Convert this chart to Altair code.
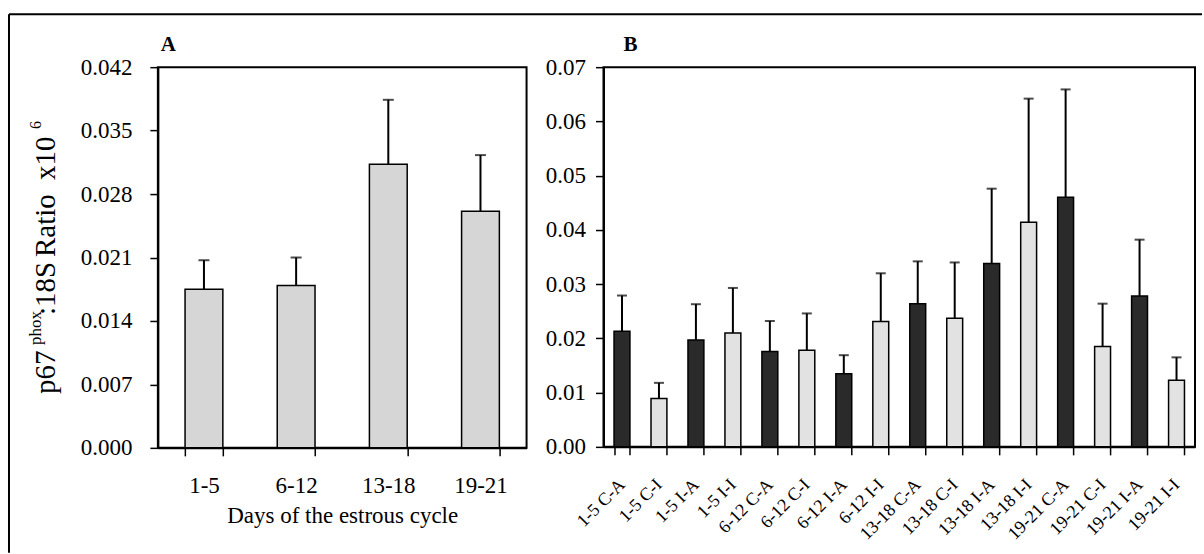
import altair as alt
import pandas as pd

# ---------------- data ----------------
days_A = ["1-5", "6-12", "13-18", "19-21"]
mean_A = [0.0175, 0.0179, 0.0313, 0.0261]
err_A = [0.0032, 0.0031, 0.0071, 0.0062]

groups_B = ["1-5 C-A", "1-5 C-I", "1-5 I-A", "1-5 I-I",
            "6-12 C-A", "6-12 C-I", "6-12 I-A", "6-12 I-I",
            "13-18 C-A", "13-18 C-I", "13-18 I-A", "13-18 I-I",
            "19-21 C-A", "19-21 C-I", "19-21 I-A", "19-21 I-I"]
mean_B = [0.0213, 0.0089, 0.0197, 0.0210, 0.0176, 0.0178, 0.0135, 0.0231,
          0.0264, 0.0237, 0.0338, 0.0414, 0.0460, 0.0185, 0.0278, 0.0123]
err_B = [0.0066, 0.0029, 0.0066, 0.0083, 0.0056, 0.0068, 0.0034, 0.0089,
         0.0078, 0.0103, 0.0138, 0.0228, 0.0199, 0.0079, 0.0104, 0.0042]
kind_B = ["A" if g.endswith("-A") else "I" for g in groups_B]

yticks_A = [0.0, 0.007, 0.014, 0.021, 0.028, 0.035, 0.042]
yticks_B = [0.0, 0.01, 0.02, 0.03, 0.04, 0.05, 0.06, 0.07]

FONT = "Liberation Serif"

dfA = pd.DataFrame({"day": days_A, "mean": mean_A,
                    "upper": [m + e for m, e in zip(mean_A, err_A)]})
dfB = pd.DataFrame({"grp": groups_B, "mean": mean_B, "kind": kind_B,
                    "upper": [m + e for m, e in zip(mean_B, err_B)]})
one = pd.DataFrame({"_": [0]})


def txt(s, x, y, size, angle=0, weight="normal"):
    return alt.Chart(one).mark_text(
        text=s, font=FONT, fontSize=size, fontWeight=weight, angle=angle,
        align="left", baseline="alphabetic", color="black"
    ).encode(x=alt.value(x), y=alt.value(y))


# ---------------- panel A ----------------
xA_scale = alt.Scale(domain=days_A, paddingInner=0.59, paddingOuter=0.295)
yA_scale = alt.Scale(domain=[0, 0.042], nice=False)
xA = alt.X("day:N", scale=xA_scale, sort=days_A,
           axis=alt.Axis(title="Days of the estrous cycle", labelAngle=0,
                         tickBand="extent", labelPadding=19, titlePadding=7))
yA = alt.Y("mean:Q", scale=yA_scale,
           axis=alt.Axis(values=yticks_A, format=".3f", title=None, labelPadding=18))

barsA = alt.Chart(dfA).mark_bar(fill="#d6d6d6", stroke="black", strokeWidth=1.5).encode(x=xA, y=yA)
ruleA = alt.Chart(dfA).mark_rule(color="black", strokeWidth=2).encode(
    x=alt.X("day:N", scale=xA_scale, sort=days_A), y=alt.Y("mean:Q", scale=yA_scale), y2="upper:Q")
capA = alt.Chart(dfA).mark_tick(color="black", thickness=2, size=11).encode(
    x=alt.X("day:N", scale=xA_scale, sort=days_A), y=alt.Y("upper:Q", scale=yA_scale))

title_parts = [
    txt("p67", -103, 327, 29, 270),
    txt("phox", -117, 278, 17, 270),
    txt(":18S", -103, 248, 29, 270),
    txt("Ratio", -103, 190, 29, 270),
    txt("x10", -103, 113, 29, 270),
    txt("6", -117, 62, 16, 270),
]

frame_top = alt.Chart(one).mark_rule(color="black", strokeWidth=2).encode(
    x=alt.value(-149), x2=alt.value(1045), y=alt.value(-53))
frame_left = alt.Chart(one).mark_rule(color="black", strokeWidth=2).encode(
    x=alt.value(-149), y=alt.value(-53), y2=alt.value(486))

panelA = alt.layer(
    barsA, ruleA, capA, *title_parts,
    txt("A", 3, -16, 21, 0, "bold"),
    frame_top, frame_left,
).properties(width=369, height=381)

# ---------------- panel B ----------------
xB_scale = alt.Scale(domain=groups_B, paddingInner=0.57, paddingOuter=0.285)
yB_scale = alt.Scale(domain=[0, 0.07], nice=False)
xB = alt.X("grp:N", scale=xB_scale, sort=groups_B,
           axis=alt.Axis(title=None, labelAngle=-45, labelAlign="right",
                         labelBaseline="middle", labelFontSize=18,
                         tickBand="extent", labelPadding=27))
yB = alt.Y("mean:Q", scale=yB_scale,
           axis=alt.Axis(values=yticks_B, format=".2f", title=None, labelPadding=10))

barsB = alt.Chart(dfB).mark_bar(stroke="black", strokeWidth=1.5).encode(
    x=xB, y=yB,
    fill=alt.Fill("kind:N", scale=alt.Scale(domain=["A", "I"], range=["#2a2a2a", "#e2e2e2"]),
                  legend=None))
ruleB = alt.Chart(dfB).mark_rule(color="black", strokeWidth=2).encode(
    x=alt.X("grp:N", scale=xB_scale, sort=groups_B), y=alt.Y("mean:Q", scale=yB_scale), y2="upper:Q")
capB = alt.Chart(dfB).mark_tick(color="black", thickness=2, size=10).encode(
    x=alt.X("grp:N", scale=xB_scale, sort=groups_B), y=alt.Y("upper:Q", scale=yB_scale))

panelB = alt.layer(
    barsB, ruleB, capB, txt("B", 20, -16, 21, 0, "bold")
).properties(width=592, height=380)

chart = alt.hconcat(panelA, panelB, spacing=77, bounds="flush").properties(
    padding={"left": 7, "top": 12, "right": 0, "bottom": 0}
).configure_view(
    stroke="black", strokeWidth=2
).configure_axis(
    labelFont=FONT, labelFontSize=23, labelColor="black",
    titleFont=FONT, titleFontSize=23, titleFontWeight="normal", titleColor="black",
    domainColor="black", domainWidth=2, tickColor="black", tickWidth=1.5, tickSize=8,
    grid=False
)

chart.save("out.html", embed_options={"renderer": "svg", "actions": False})
